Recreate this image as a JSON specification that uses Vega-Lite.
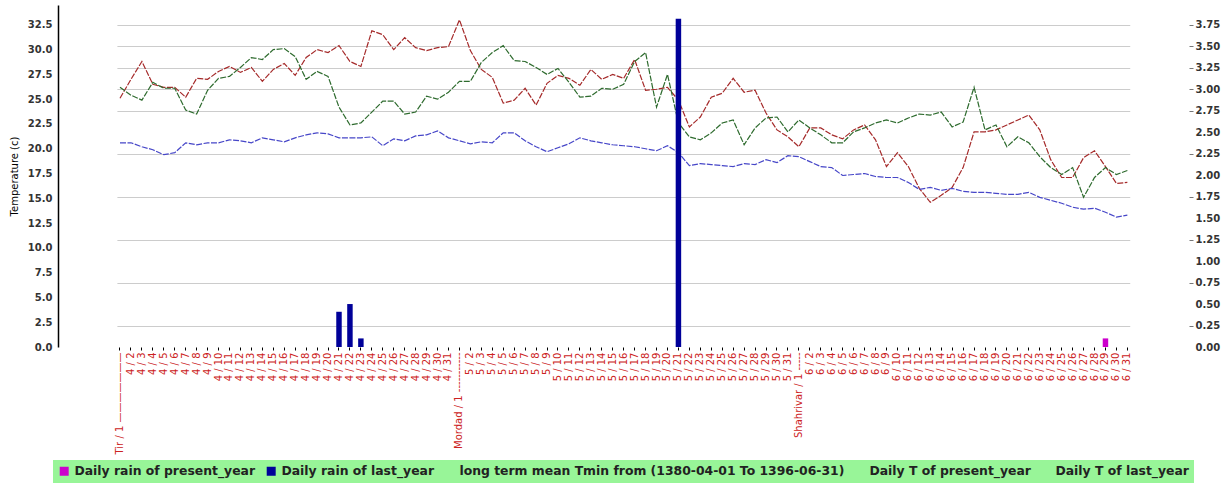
{
  "$schema": "https://vega.github.io/schema/vega-lite/v6.json",
  "width": 1131,
  "height": 342,
  "autosize": {"type": "none"},
  "padding": {"left": 58, "top": 5, "right": 37, "bottom": 139},
  "background": "white",
  "config": {"view": {"stroke": null}},
  "datasets": {
    "temps": [
      {"d":"Tir / 1","s":"tp","v":25.1},{"d":"4 / 2","s":"tp","v":27.0},{"d":"4 / 3","s":"tp","v":28.8},{"d":"4 / 4","s":"tp","v":26.5},{"d":"4 / 5","s":"tp","v":26.2},{"d":"4 / 6","s":"tp","v":26.2},{"d":"4 / 7","s":"tp","v":25.2},{"d":"4 / 8","s":"tp","v":27.1},{"d":"4 / 9","s":"tp","v":27.0},{"d":"4 / 10","s":"tp","v":27.8},{"d":"4 / 11","s":"tp","v":28.3},{"d":"4 / 12","s":"tp","v":27.7},{"d":"4 / 13","s":"tp","v":28.2},{"d":"4 / 14","s":"tp","v":26.8},{"d":"4 / 15","s":"tp","v":28.0},{"d":"4 / 16","s":"tp","v":28.6},{"d":"4 / 17","s":"tp","v":27.4},{"d":"4 / 18","s":"tp","v":29.2},{"d":"4 / 19","s":"tp","v":30.0},{"d":"4 / 20","s":"tp","v":29.7},{"d":"4 / 21","s":"tp","v":30.4},{"d":"4 / 22","s":"tp","v":28.8},{"d":"4 / 23","s":"tp","v":28.3},{"d":"4 / 24","s":"tp","v":31.9},{"d":"4 / 25","s":"tp","v":31.5},{"d":"4 / 26","s":"tp","v":30.0},{"d":"4 / 27","s":"tp","v":31.2},{"d":"4 / 28","s":"tp","v":30.2},{"d":"4 / 29","s":"tp","v":29.9},{"d":"4 / 30","s":"tp","v":30.2},{"d":"4 / 31","s":"tp","v":30.3},
      {"d":"Mordad / 1","s":"tp","v":33.0},{"d":"5 / 2","s":"tp","v":29.9},{"d":"5 / 3","s":"tp","v":28.0},{"d":"5 / 4","s":"tp","v":27.2},{"d":"5 / 5","s":"tp","v":24.6},{"d":"5 / 6","s":"tp","v":24.9},{"d":"5 / 7","s":"tp","v":26.1},{"d":"5 / 8","s":"tp","v":24.4},{"d":"5 / 9","s":"tp","v":26.6},{"d":"5 / 10","s":"tp","v":27.4},{"d":"5 / 11","s":"tp","v":27.1},{"d":"5 / 12","s":"tp","v":26.4},{"d":"5 / 13","s":"tp","v":28.0},{"d":"5 / 14","s":"tp","v":27.0},{"d":"5 / 15","s":"tp","v":27.5},{"d":"5 / 16","s":"tp","v":27.1},{"d":"5 / 17","s":"tp","v":29.0},{"d":"5 / 18","s":"tp","v":25.9},{"d":"5 / 19","s":"tp","v":26.0},{"d":"5 / 20","s":"tp","v":26.2},{"d":"5 / 21","s":"tp","v":24.9},{"d":"5 / 22","s":"tp","v":22.2},{"d":"5 / 23","s":"tp","v":23.2},{"d":"5 / 24","s":"tp","v":25.2},{"d":"5 / 25","s":"tp","v":25.6},{"d":"5 / 26","s":"tp","v":27.1},{"d":"5 / 27","s":"tp","v":25.7},{"d":"5 / 28","s":"tp","v":25.9},{"d":"5 / 29","s":"tp","v":23.6},{"d":"5 / 30","s":"tp","v":21.9},{"d":"5 / 31","s":"tp","v":21.2},
      {"d":"Shahrivar / 1","s":"tp","v":20.2},{"d":"6 / 2","s":"tp","v":22.1},{"d":"6 / 3","s":"tp","v":22.1},{"d":"6 / 4","s":"tp","v":21.4},{"d":"6 / 5","s":"tp","v":21.0},{"d":"6 / 6","s":"tp","v":21.9},{"d":"6 / 7","s":"tp","v":22.4},{"d":"6 / 8","s":"tp","v":20.9},{"d":"6 / 9","s":"tp","v":18.2},{"d":"6 / 10","s":"tp","v":19.6},{"d":"6 / 11","s":"tp","v":18.2},{"d":"6 / 12","s":"tp","v":16.0},{"d":"6 / 13","s":"tp","v":14.6},{"d":"6 / 14","s":"tp","v":15.3},{"d":"6 / 15","s":"tp","v":16.1},{"d":"6 / 16","s":"tp","v":18.1},{"d":"6 / 17","s":"tp","v":21.7},{"d":"6 / 18","s":"tp","v":21.7},{"d":"6 / 19","s":"tp","v":21.9},{"d":"6 / 20","s":"tp","v":22.4},{"d":"6 / 21","s":"tp","v":22.9},{"d":"6 / 22","s":"tp","v":23.4},{"d":"6 / 23","s":"tp","v":21.9},{"d":"6 / 24","s":"tp","v":18.9},{"d":"6 / 25","s":"tp","v":17.1},{"d":"6 / 26","s":"tp","v":17.1},{"d":"6 / 27","s":"tp","v":19.1},{"d":"6 / 28","s":"tp","v":19.8},{"d":"6 / 29","s":"tp","v":18.2},{"d":"6 / 30","s":"tp","v":16.5},{"d":"6 / 31","s":"tp","v":16.6},

      {"d":"Tir / 1","s":"tl","v":26.2},{"d":"4 / 2","s":"tl","v":25.4},{"d":"4 / 3","s":"tl","v":24.9},{"d":"4 / 4","s":"tl","v":26.7},{"d":"4 / 5","s":"tl","v":26.1},{"d":"4 / 6","s":"tl","v":26.1},{"d":"4 / 7","s":"tl","v":23.9},{"d":"4 / 8","s":"tl","v":23.5},{"d":"4 / 9","s":"tl","v":25.9},{"d":"4 / 10","s":"tl","v":27.1},{"d":"4 / 11","s":"tl","v":27.3},{"d":"4 / 12","s":"tl","v":28.2},{"d":"4 / 13","s":"tl","v":29.2},{"d":"4 / 14","s":"tl","v":29.0},{"d":"4 / 15","s":"tl","v":30.0},{"d":"4 / 16","s":"tl","v":30.1},{"d":"4 / 17","s":"tl","v":29.3},{"d":"4 / 18","s":"tl","v":27.0},{"d":"4 / 19","s":"tl","v":27.8},{"d":"4 / 20","s":"tl","v":27.3},{"d":"4 / 21","s":"tl","v":24.2},{"d":"4 / 22","s":"tl","v":22.4},{"d":"4 / 23","s":"tl","v":22.6},{"d":"4 / 24","s":"tl","v":23.7},{"d":"4 / 25","s":"tl","v":24.8},{"d":"4 / 26","s":"tl","v":24.8},{"d":"4 / 27","s":"tl","v":23.5},{"d":"4 / 28","s":"tl","v":23.7},{"d":"4 / 29","s":"tl","v":25.3},{"d":"4 / 30","s":"tl","v":25.0},{"d":"4 / 31","s":"tl","v":25.7},
      {"d":"Mordad / 1","s":"tl","v":26.8},{"d":"5 / 2","s":"tl","v":26.8},{"d":"5 / 3","s":"tl","v":28.7},{"d":"5 / 4","s":"tl","v":29.7},{"d":"5 / 5","s":"tl","v":30.4},{"d":"5 / 6","s":"tl","v":28.9},{"d":"5 / 7","s":"tl","v":28.8},{"d":"5 / 8","s":"tl","v":28.2},{"d":"5 / 9","s":"tl","v":27.5},{"d":"5 / 10","s":"tl","v":28.1},{"d":"5 / 11","s":"tl","v":26.7},{"d":"5 / 12","s":"tl","v":25.2},{"d":"5 / 13","s":"tl","v":25.3},{"d":"5 / 14","s":"tl","v":26.1},{"d":"5 / 15","s":"tl","v":26.0},{"d":"5 / 16","s":"tl","v":26.5},{"d":"5 / 17","s":"tl","v":28.8},{"d":"5 / 18","s":"tl","v":29.7},{"d":"5 / 19","s":"tl","v":24.2},{"d":"5 / 20","s":"tl","v":27.5},{"d":"5 / 21","s":"tl","v":22.6},{"d":"5 / 22","s":"tl","v":21.2},{"d":"5 / 23","s":"tl","v":20.9},{"d":"5 / 24","s":"tl","v":21.6},{"d":"5 / 25","s":"tl","v":22.6},{"d":"5 / 26","s":"tl","v":22.9},{"d":"5 / 27","s":"tl","v":20.4},{"d":"5 / 28","s":"tl","v":22.1},{"d":"5 / 29","s":"tl","v":23.1},{"d":"5 / 30","s":"tl","v":23.2},{"d":"5 / 31","s":"tl","v":21.7},
      {"d":"Shahrivar / 1","s":"tl","v":22.9},{"d":"6 / 2","s":"tl","v":22.1},{"d":"6 / 3","s":"tl","v":21.4},{"d":"6 / 4","s":"tl","v":20.6},{"d":"6 / 5","s":"tl","v":20.6},{"d":"6 / 6","s":"tl","v":21.7},{"d":"6 / 7","s":"tl","v":22.1},{"d":"6 / 8","s":"tl","v":22.6},{"d":"6 / 9","s":"tl","v":22.9},{"d":"6 / 10","s":"tl","v":22.6},{"d":"6 / 11","s":"tl","v":23.1},{"d":"6 / 12","s":"tl","v":23.5},{"d":"6 / 13","s":"tl","v":23.4},{"d":"6 / 14","s":"tl","v":23.7},{"d":"6 / 15","s":"tl","v":22.2},{"d":"6 / 16","s":"tl","v":22.7},{"d":"6 / 17","s":"tl","v":26.2},{"d":"6 / 18","s":"tl","v":21.9},{"d":"6 / 19","s":"tl","v":22.4},{"d":"6 / 20","s":"tl","v":20.2},{"d":"6 / 21","s":"tl","v":21.2},{"d":"6 / 22","s":"tl","v":20.6},{"d":"6 / 23","s":"tl","v":19.2},{"d":"6 / 24","s":"tl","v":18.1},{"d":"6 / 25","s":"tl","v":17.4},{"d":"6 / 26","s":"tl","v":18.1},{"d":"6 / 27","s":"tl","v":15.1},{"d":"6 / 28","s":"tl","v":17.1},{"d":"6 / 29","s":"tl","v":18.1},{"d":"6 / 30","s":"tl","v":17.4},{"d":"6 / 31","s":"tl","v":17.8},

      {"d":"Tir / 1","s":"tmin","v":20.6},{"d":"4 / 2","s":"tmin","v":20.6},{"d":"4 / 3","s":"tmin","v":20.2},{"d":"4 / 4","s":"tmin","v":19.9},{"d":"4 / 5","s":"tmin","v":19.4},{"d":"4 / 6","s":"tmin","v":19.6},{"d":"4 / 7","s":"tmin","v":20.6},{"d":"4 / 8","s":"tmin","v":20.4},{"d":"4 / 9","s":"tmin","v":20.6},{"d":"4 / 10","s":"tmin","v":20.6},{"d":"4 / 11","s":"tmin","v":20.9},{"d":"4 / 12","s":"tmin","v":20.8},{"d":"4 / 13","s":"tmin","v":20.6},{"d":"4 / 14","s":"tmin","v":21.1},{"d":"4 / 15","s":"tmin","v":20.9},{"d":"4 / 16","s":"tmin","v":20.7},{"d":"4 / 17","s":"tmin","v":21.1},{"d":"4 / 18","s":"tmin","v":21.4},{"d":"4 / 19","s":"tmin","v":21.6},{"d":"4 / 20","s":"tmin","v":21.5},{"d":"4 / 21","s":"tmin","v":21.1},{"d":"4 / 22","s":"tmin","v":21.1},{"d":"4 / 23","s":"tmin","v":21.1},{"d":"4 / 24","s":"tmin","v":21.2},{"d":"4 / 25","s":"tmin","v":20.3},{"d":"4 / 26","s":"tmin","v":21.0},{"d":"4 / 27","s":"tmin","v":20.8},{"d":"4 / 28","s":"tmin","v":21.3},{"d":"4 / 29","s":"tmin","v":21.4},{"d":"4 / 30","s":"tmin","v":21.8},{"d":"4 / 31","s":"tmin","v":21.1},
      {"d":"Mordad / 1","s":"tmin","v":20.8},{"d":"5 / 2","s":"tmin","v":20.5},{"d":"5 / 3","s":"tmin","v":20.7},{"d":"5 / 4","s":"tmin","v":20.6},{"d":"5 / 5","s":"tmin","v":21.6},{"d":"5 / 6","s":"tmin","v":21.6},{"d":"5 / 7","s":"tmin","v":20.8},{"d":"5 / 8","s":"tmin","v":20.2},{"d":"5 / 9","s":"tmin","v":19.7},{"d":"5 / 10","s":"tmin","v":20.1},{"d":"5 / 11","s":"tmin","v":20.5},{"d":"5 / 12","s":"tmin","v":21.1},{"d":"5 / 13","s":"tmin","v":20.8},{"d":"5 / 14","s":"tmin","v":20.6},{"d":"5 / 15","s":"tmin","v":20.4},{"d":"5 / 16","s":"tmin","v":20.3},{"d":"5 / 17","s":"tmin","v":20.2},{"d":"5 / 18","s":"tmin","v":20.0},{"d":"5 / 19","s":"tmin","v":19.8},{"d":"5 / 20","s":"tmin","v":20.3},{"d":"5 / 21","s":"tmin","v":19.6},{"d":"5 / 22","s":"tmin","v":18.3},{"d":"5 / 23","s":"tmin","v":18.5},{"d":"5 / 24","s":"tmin","v":18.4},{"d":"5 / 25","s":"tmin","v":18.3},{"d":"5 / 26","s":"tmin","v":18.2},{"d":"5 / 27","s":"tmin","v":18.5},{"d":"5 / 28","s":"tmin","v":18.4},{"d":"5 / 29","s":"tmin","v":18.9},{"d":"5 / 30","s":"tmin","v":18.6},{"d":"5 / 31","s":"tmin","v":19.3},
      {"d":"Shahrivar / 1","s":"tmin","v":19.2},{"d":"6 / 2","s":"tmin","v":18.7},{"d":"6 / 3","s":"tmin","v":18.2},{"d":"6 / 4","s":"tmin","v":18.1},{"d":"6 / 5","s":"tmin","v":17.3},{"d":"6 / 6","s":"tmin","v":17.4},{"d":"6 / 7","s":"tmin","v":17.5},{"d":"6 / 8","s":"tmin","v":17.2},{"d":"6 / 9","s":"tmin","v":17.1},{"d":"6 / 10","s":"tmin","v":17.1},{"d":"6 / 11","s":"tmin","v":16.6},{"d":"6 / 12","s":"tmin","v":15.9},{"d":"6 / 13","s":"tmin","v":16.1},{"d":"6 / 14","s":"tmin","v":15.8},{"d":"6 / 15","s":"tmin","v":16.0},{"d":"6 / 16","s":"tmin","v":15.7},{"d":"6 / 17","s":"tmin","v":15.6},{"d":"6 / 18","s":"tmin","v":15.6},{"d":"6 / 19","s":"tmin","v":15.5},{"d":"6 / 20","s":"tmin","v":15.4},{"d":"6 / 21","s":"tmin","v":15.4},{"d":"6 / 22","s":"tmin","v":15.6},{"d":"6 / 23","s":"tmin","v":15.1},{"d":"6 / 24","s":"tmin","v":14.8},{"d":"6 / 25","s":"tmin","v":14.5},{"d":"6 / 26","s":"tmin","v":14.1},{"d":"6 / 27","s":"tmin","v":13.9},{"d":"6 / 28","s":"tmin","v":14.0},{"d":"6 / 29","s":"tmin","v":13.6},{"d":"6 / 30","s":"tmin","v":13.1},{"d":"6 / 31","s":"tmin","v":13.3}
    ],
    "rain": [
      {"d":"4 / 21","s":"rl","r":0.41},
      {"d":"4 / 22","s":"rl","r":0.50},
      {"d":"4 / 23","s":"rl","r":0.10},
      {"d":"5 / 21","s":"rl","r":3.82},
      {"d":"6 / 29","s":"rp","r":0.10}
    ]
  },
  "encoding": {
    "x": {
      "field": "d",
      "type": "ordinal",
      "sort": null,
      "scale": {"type": "band", "paddingInner": 0.5, "paddingOuter": 0, "range": [59.26, 1072.1]},
      "axis": {
        "title": null,
        "labelAngle": 270,
        "labelOverlap": false,
        "labelFont": "DejaVu Sans",
        "labelFontSize": 10,
        "labelColor": "#cc2222",
        "labelLimit": 300,
        "labelPadding": 2,
        "domain": false,
        "tickColor": "#000000",
        "tickSize": 3,
        "grid": false,
        "labelExpr": "datum.value == 'Tir / 1' ? 'Tir / 1 \u2014\u2014\u2014\u2014\u2014\u2014\u2014' : datum.value == 'Mordad / 1' ? 'Mordad / 1 -----------' : datum.value == 'Shahrivar / 1' ? 'Shahrivar / 1 -----' : datum.value"
      }
    }
  },
  "layer": [
    {
      "data": {"name": "temps"},
      "mark": {"type": "line", "strokeWidth": 1.2, "strokeDash": [6, 1.5]},
      "encoding": {
        "y": {
          "field": "v",
          "type": "quantitative",
          "scale": {"domain": [0, 34.5], "nice": false, "zero": false},
          "axis": {
            "orient": "left",
            "title": "Temperature (c)",
            "values": [0, 2.5, 5, 7.5, 10, 12.5, 15, 17.5, 20, 22.5, 25, 27.5, 30, 32.5],
            "format": ".1f",
            "grid": false,
            "ticks": false,
            "labelPadding": 6,
            "domain": true,
            "domainColor": "#000000",
            "domainWidth": 1.5,
            "labelFont": "DejaVu Sans",
            "labelFontWeight": "bold",
            "labelFontSize": 10,
            "labelColor": "#333333",
            "titleFont": "DejaVu Sans",
            "titleFontSize": 10,
            "titleFontWeight": "normal",
            "titleColor": "#000000",
            "titlePadding": 8
          }
        },
        "color": {
          "field": "s",
          "type": "nominal",
          "scale": {
            "domain": ["rp", "rl", "tmin", "tp", "tl"],
            "range": ["#cc00cc", "#000099", "#4646c8", "#a52a2a", "#2e6b2e"]
          },
          "legend": {
            "orient": "none",
            "legendX": -5,
            "legendY": 455,
            "direction": "horizontal",
            "title": null,
            "fillColor": "#98f598",
            "padding": 5,
            "columnPadding": 8,
            "symbolType": "square",
            "symbolSize": 56,
            "labelOffset": 4,
            "labelFont": "DejaVu Sans",
            "labelFontWeight": "bold",
            "labelFontSize": 12.4,
            "labelColor": "#222222",
            "labelLimit": 1000,
            "labelExpr": "datum.value == 'rp' ? 'Daily rain of present_year' : datum.value == 'rl' ? 'Daily rain of last_year' : datum.value == 'tmin' ? '\u00a0\u00a0\u00a0long term mean Tmin from (1380-04-01 To 1396-06-31)' : datum.value == 'tp' ? 'Daily T of present_year' : 'Daily T of last_year\u00a0'",
            "encode": {
              "symbols": {
                "update": {
                  "fill": {"scale": "color", "field": "value"},
                  "stroke": {"value": "transparent"},
                  "opacity": {"signal": "datum.value == 'rp' || datum.value == 'rl' ? 1 : 0"}
                }
              }
            }
          }
        }
      }
    },
    {
      "data": {"name": "rain"},
      "mark": {"type": "bar"},
      "encoding": {
        "y": {
          "field": "r",
          "type": "quantitative",
          "stack": null,
          "scale": {"domain": [0, 3.98], "nice": false, "zero": false},
          "axis": {
            "orient": "right",
            "title": null,
            "values": [0, 0.25, 0.5, 0.75, 1, 1.25, 1.5, 1.75, 2, 2.25, 2.5, 2.75, 3, 3.25, 3.5, 3.75],
            "format": ".2f",
            "domain": false,
            "grid": true,
            "gridColor": "#cccccc",
            "gridWidth": 1,
            "gridOpacity": {"condition": {"test": "indexof([0.25,0.75,1.25,1.75,2.25,2.75,3,3.25,3.5,3.75], datum.value) >= 0", "value": 1}, "value": 0},
            "tickOpacity": {"condition": {"test": "indexof([0.25,0.75,1.25,1.75,2.25,2.75,3,3.25,3.5,3.75], datum.value) >= 0", "value": 1}, "value": 0},
            "tickColor": "#777777",
            "tickSize": 4,
            "labelPadding": 2,
            "labelFont": "DejaVu Sans",
            "labelFontWeight": "bold",
            "labelFontSize": 10,
            "labelColor": "#333333"
          }
        },
        "color": {
          "field": "s",
          "type": "nominal",
          "scale": {
            "domain": ["rp", "rl", "tmin", "tp", "tl"],
            "range": ["#cc00cc", "#000099", "#4646c8", "#a52a2a", "#2e6b2e"]
          }
        }
      }
    }
  ],
  "resolve": {"scale": {"y": "independent"}}
}
